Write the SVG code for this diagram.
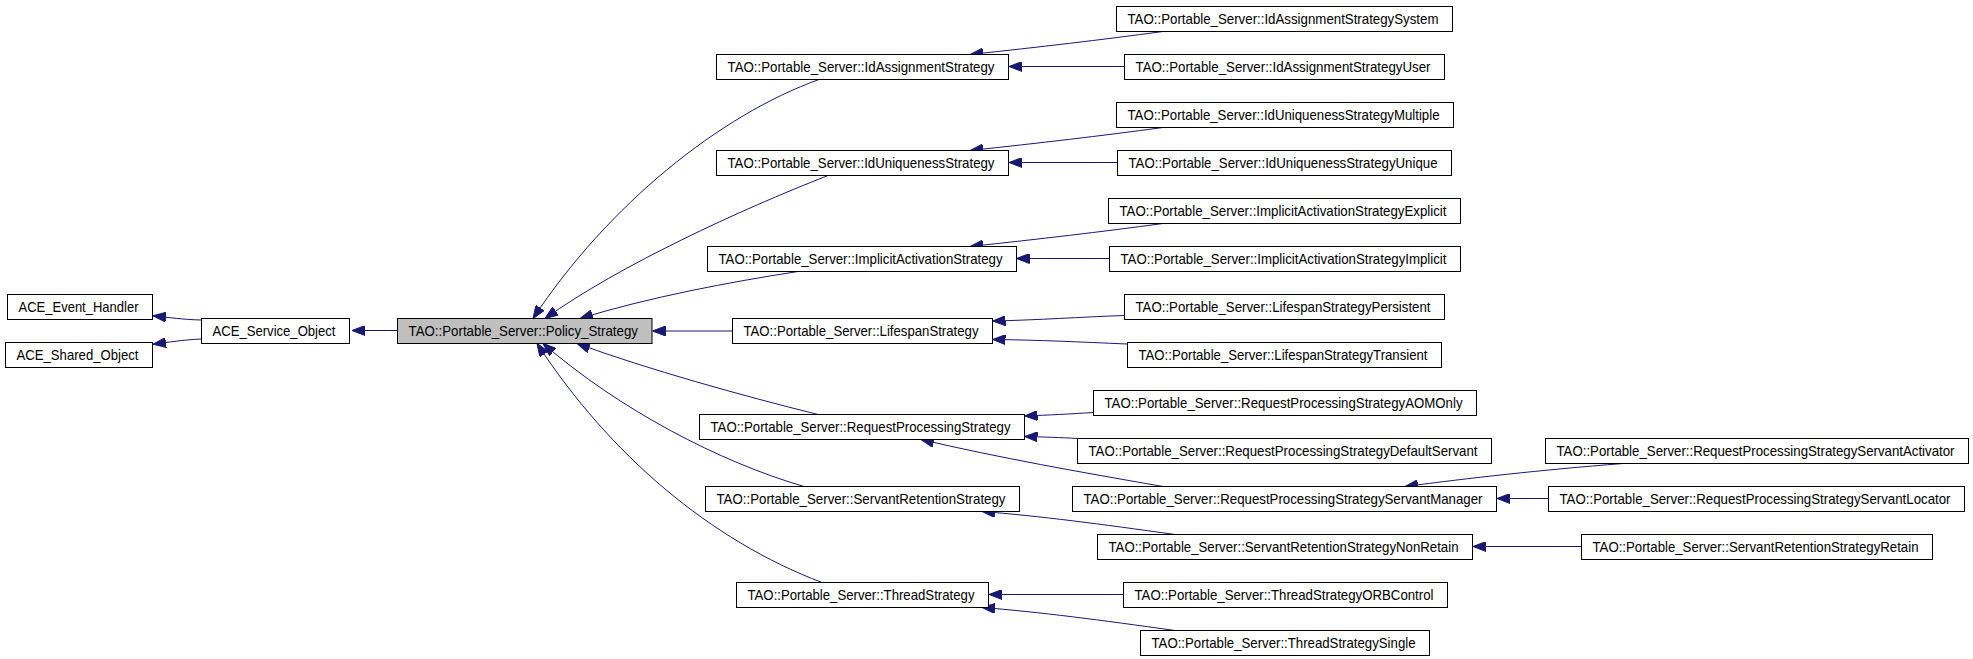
<svg xmlns="http://www.w3.org/2000/svg" width="1973" height="659" viewBox="0 0 1973 659">
<style>
  .node rect { fill: #ffffff; stroke: #000000; stroke-width: 1; }
  .node.sel rect { fill: #bfbfbf; }
  .node text { font-family: "Liberation Sans", Arial, sans-serif; font-size: 14.5px; fill: #000000; text-anchor: middle; }
  .edges path { fill: none; stroke: #191970; stroke-width: 1; marker-end: url(#arr); }
</style>
<defs>
  <marker id="arr" markerUnits="userSpaceOnUse" markerWidth="13" markerHeight="10" refX="13" refY="5" orient="auto" viewBox="0 0 13 10">
    <path d="M0,0 L13,5 L0,10 z" fill="#191970" stroke="#191970" stroke-width="1"/>
  </marker>
</defs>
<rect width="1973" height="659" fill="#ffffff"/>
<g id="edges" class="edges">
  <path d="M201,320 C182,319.5 170,317.5 153,315.8"/>
  <path d="M201,339 C182,340 170,342 153,344.3"/>
  <path d="M397,330.5 L352,330.5"/>
  <path d="M819,79.5 C720,115 608,205 533,318.5"/>
  <path d="M828,175.5 C740,210 620,265 545,318.5"/>
  <path d="M798,271.5 C730,282 650,297 580,318.5"/>
  <path d="M732,331 L652.5,331"/>
  <path d="M818,414.5 C740,395 650,370 577,343.5"/>
  <path d="M804,486.5 C720,462 620,410 543,343.5"/>
  <path d="M822,582.5 C710,540 610,455 537,343.5"/>
  <path d="M1163,31.5 C1100,40 1040,47 970,54.5"/>
  <path d="M1124,66.5 L1009,66.5"/>
  <path d="M1163,127.5 C1100,136 1040,143 970,150.5"/>
  <path d="M1117,162.5 L1009,162.5"/>
  <path d="M1163,223.5 C1100,232 1040,239 970,246.5"/>
  <path d="M1109,258.5 L1016.5,258.5"/>
  <path d="M1124,315.5 C1080,317 1040,320 992.5,321"/>
  <path d="M1127,344 C1080,342 1040,340 992.5,339.5"/>
  <path d="M1093,412.5 C1070,414 1050,415 1024.5,416"/>
  <path d="M1078,438.5 C1060,437.5 1045,437 1024.5,436.5"/>
  <path d="M1163,486.5 C1080,472 1000,458 921,439.5"/>
  <path d="M1623,463.5 C1540,470 1470,478 1405,486.5"/>
  <path d="M1548,498.5 L1497,498.5"/>
  <path d="M1175,534.5 C1100,524 1040,516 982,511.5"/>
  <path d="M1581,546.5 L1473,546.5"/>
  <path d="M1123,594.5 L989,594.5"/>
  <path d="M1175,630.5 C1100,620 1040,612 982,607.5"/>
</g>
<g id="n_ace_event_handler" class="node"><rect x="7.5" y="294.5" width="145" height="25"/><text x="78.5" y="312" textLength="120" lengthAdjust="spacingAndGlyphs">ACE_Event_Handler</text></g>
<g id="n_ace_shared_object" class="node"><rect x="5.5" y="342.5" width="147" height="25"/><text x="77.5" y="360" textLength="122" lengthAdjust="spacingAndGlyphs">ACE_Shared_Object</text></g>
<g id="n_ace_service_object" class="node"><rect x="201.5" y="318.5" width="148" height="25"/><text x="274" y="336" textLength="123" lengthAdjust="spacingAndGlyphs">ACE_Service_Object</text></g>
<g id="n_policy_strategy" class="node sel"><rect x="397.5" y="318.5" width="254.5" height="25"/><text x="523.25" y="336" textLength="229.5" lengthAdjust="spacingAndGlyphs">TAO::Portable_Server::Policy_Strategy</text></g>
<g id="n_id_assignment" class="node"><rect x="716.5" y="54.5" width="292" height="25"/><text x="861" y="72" textLength="267" lengthAdjust="spacingAndGlyphs">TAO::Portable_Server::IdAssignmentStrategy</text></g>
<g id="n_id_uniqueness" class="node"><rect x="716.5" y="150.5" width="292" height="25"/><text x="861" y="168" textLength="267" lengthAdjust="spacingAndGlyphs">TAO::Portable_Server::IdUniquenessStrategy</text></g>
<g id="n_implicit_activation" class="node"><rect x="707.5" y="246.5" width="309" height="25"/><text x="860.5" y="264" textLength="284" lengthAdjust="spacingAndGlyphs">TAO::Portable_Server::ImplicitActivationStrategy</text></g>
<g id="n_lifespan" class="node"><rect x="732.5" y="318.5" width="260" height="25"/><text x="861" y="336" textLength="235" lengthAdjust="spacingAndGlyphs">TAO::Portable_Server::LifespanStrategy</text></g>
<g id="n_request_processing" class="node"><rect x="699.5" y="414.5" width="325" height="25"/><text x="860.5" y="432" textLength="300" lengthAdjust="spacingAndGlyphs">TAO::Portable_Server::RequestProcessingStrategy</text></g>
<g id="n_servant_retention" class="node"><rect x="705.5" y="486.5" width="314" height="25"/><text x="861" y="504" textLength="289" lengthAdjust="spacingAndGlyphs">TAO::Portable_Server::ServantRetentionStrategy</text></g>
<g id="n_thread" class="node"><rect x="736.5" y="582.5" width="252" height="25"/><text x="861" y="600" textLength="227" lengthAdjust="spacingAndGlyphs">TAO::Portable_Server::ThreadStrategy</text></g>
<g id="n_id_assignment_system" class="node"><rect x="1116.5" y="6.5" width="336" height="25"/><text x="1283" y="24" textLength="311" lengthAdjust="spacingAndGlyphs">TAO::Portable_Server::IdAssignmentStrategySystem</text></g>
<g id="n_id_assignment_user" class="node"><rect x="1124.5" y="54.5" width="320" height="25"/><text x="1283" y="72" textLength="295" lengthAdjust="spacingAndGlyphs">TAO::Portable_Server::IdAssignmentStrategyUser</text></g>
<g id="n_id_uniqueness_multiple" class="node"><rect x="1116.5" y="102.5" width="337" height="25"/><text x="1283.5" y="120" textLength="312" lengthAdjust="spacingAndGlyphs">TAO::Portable_Server::IdUniquenessStrategyMultiple</text></g>
<g id="n_id_uniqueness_unique" class="node"><rect x="1117.5" y="150.5" width="334" height="25"/><text x="1283" y="168" textLength="309" lengthAdjust="spacingAndGlyphs">TAO::Portable_Server::IdUniquenessStrategyUnique</text></g>
<g id="n_implicit_explicit" class="node"><rect x="1108.5" y="198.5" width="352" height="25"/><text x="1283" y="216" textLength="327" lengthAdjust="spacingAndGlyphs">TAO::Portable_Server::ImplicitActivationStrategyExplicit</text></g>
<g id="n_implicit_implicit" class="node"><rect x="1109.5" y="246.5" width="351" height="25"/><text x="1283.5" y="264" textLength="326" lengthAdjust="spacingAndGlyphs">TAO::Portable_Server::ImplicitActivationStrategyImplicit</text></g>
<g id="n_lifespan_persistent" class="node"><rect x="1124.5" y="294.5" width="320" height="25"/><text x="1283" y="312" textLength="295" lengthAdjust="spacingAndGlyphs">TAO::Portable_Server::LifespanStrategyPersistent</text></g>
<g id="n_lifespan_transient" class="node"><rect x="1127.5" y="342.5" width="314" height="25"/><text x="1283" y="360" textLength="289" lengthAdjust="spacingAndGlyphs">TAO::Portable_Server::LifespanStrategyTransient</text></g>
<g id="n_rp_aomonly" class="node"><rect x="1093.5" y="390.5" width="383" height="25"/><text x="1283.5" y="408" textLength="358" lengthAdjust="spacingAndGlyphs">TAO::Portable_Server::RequestProcessingStrategyAOMOnly</text></g>
<g id="n_rp_default_servant" class="node"><rect x="1077.5" y="438.5" width="414" height="25"/><text x="1283" y="456" textLength="389" lengthAdjust="spacingAndGlyphs">TAO::Portable_Server::RequestProcessingStrategyDefaultServant</text></g>
<g id="n_rp_servant_manager" class="node"><rect x="1072.5" y="486.5" width="424" height="25"/><text x="1283" y="504" textLength="399" lengthAdjust="spacingAndGlyphs">TAO::Portable_Server::RequestProcessingStrategyServantManager</text></g>
<g id="n_rp_servant_activator" class="node"><rect x="1545.5" y="438.5" width="423" height="25"/><text x="1755.5" y="456" textLength="398" lengthAdjust="spacingAndGlyphs">TAO::Portable_Server::RequestProcessingStrategyServantActivator</text></g>
<g id="n_rp_servant_locator" class="node"><rect x="1548.5" y="486.5" width="416" height="25"/><text x="1755" y="504" textLength="391" lengthAdjust="spacingAndGlyphs">TAO::Portable_Server::RequestProcessingStrategyServantLocator</text></g>
<g id="n_sr_nonretain" class="node"><rect x="1097.5" y="534.5" width="375" height="25"/><text x="1283.5" y="552" textLength="350" lengthAdjust="spacingAndGlyphs">TAO::Portable_Server::ServantRetentionStrategyNonRetain</text></g>
<g id="n_sr_retain" class="node"><rect x="1581.5" y="534.5" width="351" height="25"/><text x="1755.5" y="552" textLength="326" lengthAdjust="spacingAndGlyphs">TAO::Portable_Server::ServantRetentionStrategyRetain</text></g>
<g id="n_thread_orbcontrol" class="node"><rect x="1123.5" y="582.5" width="324" height="25"/><text x="1284" y="600" textLength="299" lengthAdjust="spacingAndGlyphs">TAO::Portable_Server::ThreadStrategyORBControl</text></g>
<g id="n_thread_single" class="node"><rect x="1140.5" y="630.5" width="289" height="25"/><text x="1283.5" y="648" textLength="264" lengthAdjust="spacingAndGlyphs">TAO::Portable_Server::ThreadStrategySingle</text></g>
</svg>
